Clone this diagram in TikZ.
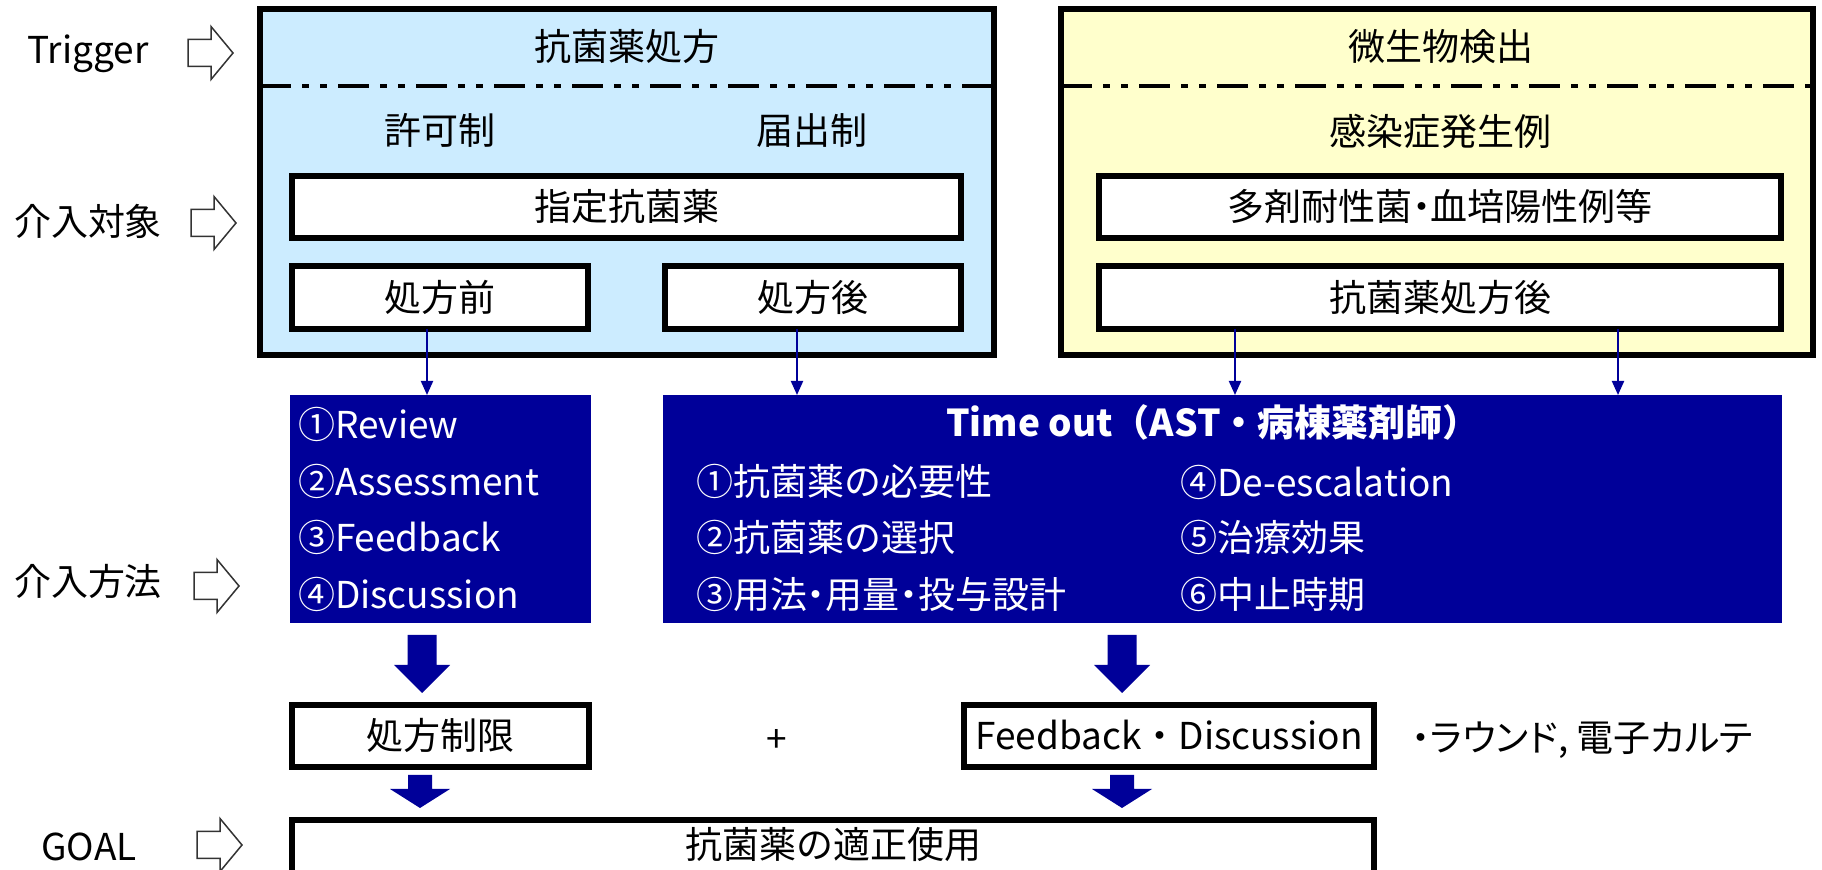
\documentclass[tikz,border=0pt]{standalone}
\usepackage{fontspec}
\setmainfont{Noto Sans CJK JP}
\usetikzlibrary{fit,calc,arrows.meta}
\definecolor{navy}{RGB}{0,0,153}
\definecolor{paleblue}{RGB}{204,236,255}
\definecolor{paleyellow}{RGB}{255,255,204}
% proportional kana and punctuation
\newcommand\propkana{\addfontfeatures{RawFeature=+palt}}
\begin{document}
\begin{tikzpicture}[x=0.5pt,y=-0.5pt,
  every node/.style={inner sep=0pt, outer sep=0pt, text height=15.7pt, text depth=1.8pt,
    font=\fontsize{18.5pt}{22pt}\selectfont},
  panel/.style={draw=black, line width=2.6pt, inner sep=0pt},
  wbox/.style={draw=black, line width=2.6pt, fill=white, inner sep=0pt},
  darkbox/.style={fill=navy, inner sep=0pt},
  wtext/.style={text=white, anchor=west},
  link/.style={draw=navy, line width=1pt, -{Triangle[length=7pt,width=6pt]}},
  dashdotdot/.style={line width=1.8pt,
    dash pattern=on 15.5pt off 5.5pt on 3.5pt off 5.5pt on 3.5pt off 5.5pt},
  hollow/.pic={\draw[line width=0.75pt, draw=black!80, fill=white, line join=miter]
    (0,-13.5) -- (23,-13.5) -- (23,-26.5) -- (45,0) -- (23,26.5) -- (23,13.5) -- (0,13.5) -- cycle;},
  bigdown/.pic={\fill[navy]
    (-14.5,0) -- (14.5,0) -- (14.5,30) -- (28,30) -- (0,58) -- (-28,30) -- (-14.5,30) -- cycle;},
  smalldown/.pic={\fill[navy]
    (-12,0) -- (12,0) -- (12,14) -- (30,14) -- (0,33) -- (-30,14) -- (-12,14) -- cycle;}
]
\useasboundingbox (0,0) rectangle (1822,870);
\clip (0,0) rectangle (1822,870);

% row labels with hollow arrows
\node (trig) at (88,50) {Trigger};
\node (target) at (88,222) {介入対象};
\node (method) at (88,582) {介入方法};
\node (goal) at (89,847) {GOAL};
\pic at (188,53) {hollow};
\pic at (191,223) {hollow};
\pic at (194,586) {hollow};
\pic at (197,845) {hollow};

% trigger panels
\node[panel, fill=paleblue, fit={(260,9)(994,355)}] (rx) {};
\node[panel, fill=paleyellow, fit={(1061,9)(1813,355)}] (micro) {};
\draw[dashdotdot] (rx.west |- 0,86) -- (rx.east |- 0,86);
\draw[dashdotdot] (micro.west |- 0,86) -- (micro.east |- 0,86);

\node (rxtitle) at (627,47) {抗菌薬処方};
\node (permit) at (440,131) {許可制};
\node (notify) at (812,131) {届出制};
\node[wbox, fit={(292,176)(961,238)}] (shitei) {};
\node (shiteiT) at (shitei.center) {指定抗菌薬};
\node[wbox, fit={(292,266)(588,329)}] (pre) {};
\node (preT) at (pre.center) {処方前};
\node[wbox, fit={(665,266)(961,329)}] (post) {};
\node (postT) at (post.center) {処方後};

\node (microtitle) at (1441,47) {微生物検出};
\node (infect) at (1440,132) {感染症発生例};
\node[wbox, fit={(1099,176)(1781,238)}] (mdr) {};
\node (mdrT) at (mdr.center) {\propkana 多剤耐性菌・血培陽性例等};
\node[wbox, fit={(1099,266)(1781,329)}] (aftrx) {};
\node (aftrxT) at (aftrx.center) {抗菌薬処方後};

% intervention methods
\node[darkbox, fit={(290,395)(591,623)}] (rev) {};
\node[darkbox, fit={(663,395)(1782,623)}] (tout) {};
\node[wtext] (r1) at (298,425) {①Review};
\node[wtext] (r2) at (298,482) {②Assessment};
\node[wtext] (r3) at (298,538) {③Feedback};
\node[wtext] (r4) at (298,595) {④Discussion};
\node[text=white, font=\fontsize{18.5pt}{22pt}\selectfont\bfseries] (touth) at (1213,423) {Time out（AST・病棟薬剤師）};
\node[wtext] (t1) at (696,482) {①抗菌薬の必要性};
\node[wtext] (t2) at (696,538) {②抗菌薬の選択};
\node[wtext] (t3) at (696,595) {\propkana ③用法・用量・投与設計};
\node[wtext] (t4) at (1180,483) {④De-escalation};
\node[wtext] (t5) at (1180,538) {⑤治療効果};
\node[wtext] (t6) at (1180,595) {⑥中止時期};

\draw[link] (pre.south -| 427,0) -- (rev.north -| 427,0);
\draw[link] (post.south -| 797,0) -- (tout.north -| 797,0);
\draw[link] (aftrx.south -| 1235,0) -- (tout.north -| 1235,0);
\draw[link] (aftrx.south -| 1618,0) -- (tout.north -| 1618,0);

\pic at ($(rev.south -| 422,0)+(0,12)$) {bigdown};
\pic at ($(tout.south -| 1122,0)+(0,12)$) {bigdown};

% outcomes
\node[wbox, fit={(292,705)(589,767)}] (limit) {};
\node (limitT) at (limit.center) {処方制限};
\node (plus) at (777,739) {+};
\node[wbox, fit={(964,705)(1374,767)}] (fbd) {};
\node (fbdT) at (fbd.center) {Feedback・Discussion};
\node[anchor=west] (means) at (1412,738) {\propkana ・ラウンド, 電子カルテ};
\pic at ($(limit.south -| 420,0)+(0,8)$) {smalldown};
\pic at ($(fbd.south -| 1122,0)+(0,8)$) {smalldown};
\node[wbox, fit={(292,820)(1374,876)}] (use) {};
\node (useT) at (833,845) {抗菌薬の適正使用};
\end{tikzpicture}
\end{document}
